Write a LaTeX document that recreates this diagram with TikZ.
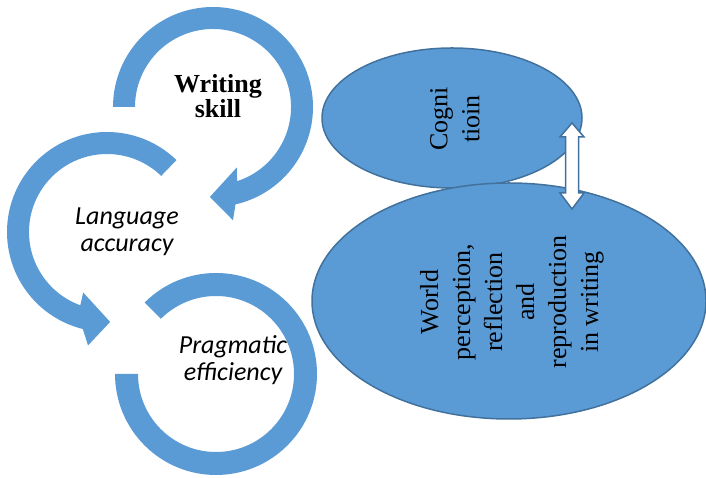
\documentclass[tikz,border=0pt]{standalone}
\usepackage{fontspec}
\setmainfont{Liberation Serif}
\newfontfamily\calibri{Carlito}
\usetikzlibrary{calc,shapes.geometric}
\definecolor{ringblue}{HTML}{5B9BD5}
\definecolor{edgeblue}{HTML}{41719C}
\begin{document}
\begin{tikzpicture}[x=1pt,y=1pt,
  ring/.style={fill=ringblue},
  bubble/.style={ellipse,draw=edgeblue,line width=1.5pt,fill=ringblue,inner sep=0pt},
  serifl/.style={font=\fontsize{26}{32}\selectfont,align=center,rotate=90,inner sep=0pt},
  cyclelabel/.style={font=\calibri\itshape\fontsize{26}{27}\selectfont,align=center,inner sep=0pt},
  twoarrow/.style={draw=edgeblue,line width=1.5pt,fill=white,line join=miter}]
\useasboundingbox (0,0) rectangle (706,478);
% ring centres
\coordinate (c1) at (213,371);
\coordinate (c2) at (107,246);
\coordinate (c3) at (216,104);
% ring 1 (Writing skill)
\fill[ring] ($(c1)+(180:100pt)$) arc[start angle=180,end angle=-77,radius=100pt]
  -- ($(c1)+(-80:115pt)$) -- ($(c1)+(-92:90pt)$) -- ($(c1)+(-68.5:65pt)$)
  -- ($(c1)+(-72:78pt)$) arc[start angle=-72,end angle=180,radius=78pt] -- cycle;
% ring 2 (Language accuracy)
\fill[ring] ($(c2)+(46:100pt)$) arc[start angle=46,end angle=256,radius=100pt]
  -- ($(c2)+(260.5:115pt)$) -- ($(c2)+(272:90pt)$) -- ($(c2)+(248.5:65pt)$)
  -- ($(c2)+(250:78pt)$) arc[start angle=250,end angle=46,radius=78pt] -- cycle;
% ring 3 (Pragmatic efficiency)
\fill[ring] ($(c3)+(135:101pt)$) arc[start angle=135,end angle=-180,radius=101pt]
  -- ($(c3)+(180:78pt)$) arc[start angle=-180,end angle=135,radius=78pt] -- cycle;
% labels
\node[font=\bfseries\fontsize{26}{25}\selectfont,align=center,inner sep=0pt] (ws) at (218,382) {Writing\\skill};
\node[cyclelabel] (la) at (127,246) {Language\\accuracy};
\node[cyclelabel] (pe) at (233,118) {Pragmatic\\efficiency};
% ellipses
\node[bubble,minimum width=260pt,minimum height=140pt] (cog) at (452,360) {};
\node[bubble,minimum width=394pt,minimum height=236pt] (world) at (509,177) {};
\node[serifl] (cogt) at (455,359) {Cogni\\tioin};
\node[serifl] (worldt) at (512,176) {World\\perception,\\reflection\\and\\reproduction\\in writing};
% double arrow
\coordinate (tt) at (572,355);
\coordinate (bt) at (572,269);
\draw[twoarrow] (tt) -- ($(tt)+(12,-14)$) -- ($(tt)+(6.5,-14)$) -- ($(bt)+(6.5,16)$)
  -- ($(bt)+(12,16)$) -- (bt) -- ($(bt)+(-12,16)$) -- ($(bt)+(-6.5,16)$)
  -- ($(tt)+(-6.5,-14)$) -- ($(tt)+(-12,-14)$) -- cycle;
\end{tikzpicture}
\end{document}
